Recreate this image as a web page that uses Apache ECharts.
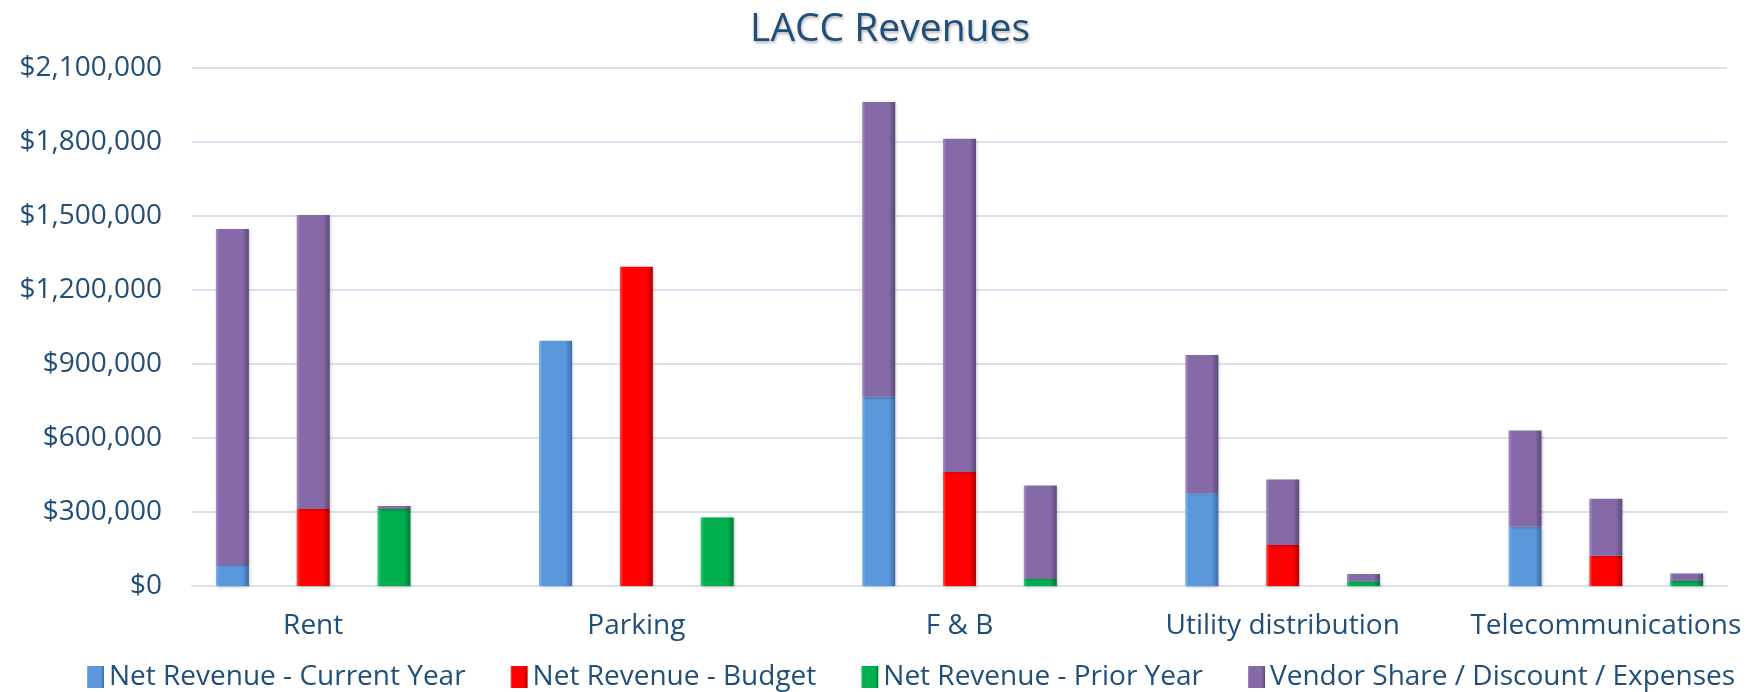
<!DOCTYPE html>
<html>
<head>
<meta charset="utf-8">
<title>LACC Revenues</title>
<script src="https://cdn.jsdelivr.net/npm/echarts@6/dist/echarts.min.js"></script>
<style>
  html, body { margin: 0; padding: 0; background: #fff; }
  #chart { width: 1752px; height: 692px; }
</style>
</head>
<body>
<div id="chart"></div>
<script>
// categories and values
var categories = ['Rent', 'Parking', 'F & B', 'Utility distribution', 'Telecommunications'];
var netCurrent = [85000, 994000, 767000, 376000, 240000];
var netBudget = [312000, 1294000, 462000, 166000, 123000];
var netPrior = [312000, 278000, 28000, 19000, 20000];
var vendorCurrent = [1362000, 0, 1195000, 560000, 390000];
var vendorBudget = [1192000, 0, 1351000, 266000, 231000];
var vendorPrior = [12000, 0, 379000, 30000, 31000];
var yTicks = { min: 0, max: 2100000, interval: 300000 };

// Excel-like layout: 3 bar slots per category, one blank slot between groups
var slotKeys = [], slotLabels = [], slotKind = [], slotCat = [];
categories.forEach(function (c, i) {
    for (var k = 0; k < 3; k++) {
        slotKeys.push(c + '#' + k);
        slotLabels.push(k === 1 ? c : '');
        slotKind.push(k);
        slotCat.push(i);
    }
    if (i < categories.length - 1) {
        slotKeys.push('gap#' + i);
        slotLabels.push('');
        slotKind.push(-1);
        slotCat.push(i);
    }
});

function pick(arr, kind) {
    return slotKind.map(function (k, s) { return k === kind ? arr[slotCat[s]] : '-'; });
}
var vendorSlots = slotKind.map(function (k, s) {
    if (k === 0) return vendorCurrent[slotCat[s]];
    if (k === 1) return vendorBudget[slotCat[s]];
    if (k === 2) return vendorPrior[slotCat[s]];
    return '-';
});

function bevel(light, main, dark) {
    return new echarts.graphic.LinearGradient(0, 0, 1, 0, [
        { offset: 0, color: light },
        { offset: 0.1, color: main },
        { offset: 0.8, color: main },
        { offset: 1, color: dark }
    ]);
}
var textColor = '#1F4E79';
var font = '"Open Sans", "Noto Sans", sans-serif';

function barSeries(name, data, colors) {
    return {
        name: name,
        type: 'bar',
        stack: 'total',
        data: data,
        barWidth: 33,
        itemStyle: {
            color: bevel(colors[0], colors[1], colors[2]),
            shadowColor: 'rgba(0,0,0,0.25)',
            shadowBlur: 3,
            shadowOffsetX: 1,
            shadowOffsetY: 1
        },
        emphasis: { disabled: true }
    };
}

var myChart = echarts.init(document.getElementById('chart'));
var option = {
    animation: false,
    title: {
        text: 'LACC Revenues',
        left: 885,
        textAlign: 'center',
        top: 5,
        textStyle: {
            color: textColor,
            fontFamily: font,
            fontSize: 39,
            fontWeight: 'normal',
            textShadowColor: 'rgba(0,0,0,0.3)',
            textShadowBlur: 3,
            textShadowOffsetX: 1,
            textShadowOffsetY: 2
        }
    },
    legend: {
        bottom: 0,
        left: 82,
        padding: [5, 5, 1, 5],
        itemWidth: 17,
        itemHeight: 22,
        itemGap: 45,
        icon: 'rect',
        textStyle: { color: textColor, fontFamily: font, fontSize: 28 }
    },
    grid: { left: 192, right: 25, top: 68, bottom: 106 },
    xAxis: {
        type: 'category',
        data: slotKeys,
        axisTick: { show: false },
        axisLine: { lineStyle: { color: '#D9E1EE', width: 2 } },
        axisLabel: {
            interval: 0,
            margin: 26,
            color: textColor,
            fontFamily: font,
            fontSize: 28,
            formatter: function (v, idx) { return slotLabels[idx]; }
        }
    },
    yAxis: {
        type: 'value',
        min: yTicks.min,
        max: yTicks.max,
        interval: yTicks.interval,
        axisLine: { show: false },
        axisTick: { show: false },
        splitLine: { lineStyle: { color: '#D9E1EE', width: 2 } },
        axisLabel: {
            margin: 30,
            color: textColor,
            fontFamily: font,
            fontSize: 28,
            formatter: function (v) { return '$' + v.toLocaleString('en-US'); }
        }
    },
    series: [
        barSeries('Net Revenue - Current Year', pick(netCurrent, 0), ['#7FB3EA', '#5B97DB', '#3C6CA8']),
        barSeries('Net Revenue - Budget', pick(netBudget, 1), ['#FF5050', '#FF0000', '#B00000']),
        barSeries('Net Revenue - Prior Year', pick(netPrior, 2), ['#33D07A', '#00B050', '#007A38']),
        barSeries('Vendor Share / Discount / Expenses', vendorSlots, ['#A58DC4', '#866AA8', '#5C4878'])
    ]
};
myChart.setOption(option);
window.addEventListener('resize', function () {
    myChart.resize();
});
</script>
</body>
</html>
